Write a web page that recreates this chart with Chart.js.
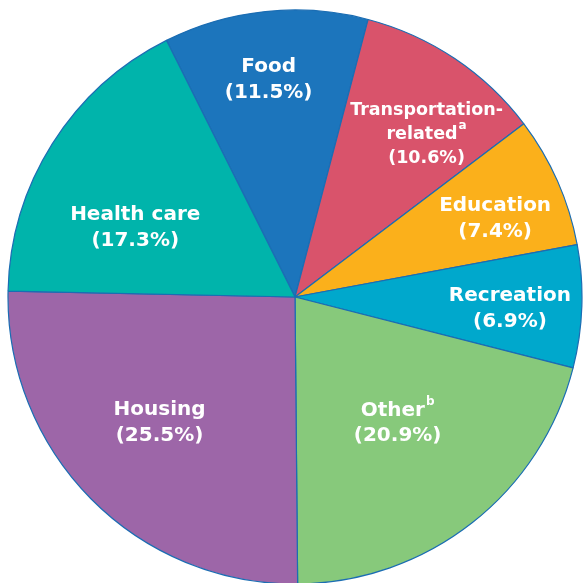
<!DOCTYPE html>
<html>
<head>
<meta charset="utf-8">
<script src="https://cdn.jsdelivr.net/npm/chart.js@4"></script>
<style>
  html, body { margin: 0; padding: 0; background: #fff; }
  #wrap { width: 583px; height: 583px; }
</style>
</head>
<body>
<div id="wrap"><canvas id="pie" width="583" height="583"></canvas></div>
<script>
// Datos
const categories = ['Food', 'Transportation-related', 'Education', 'Recreation', 'Other', 'Housing', 'Health care'];
const shares = [11.5, 10.6, 7.4, 6.9, 20.9, 25.5, 17.3];
const notes = ['', 'a', '', '', 'b', '', ''];
const sliceColors = ['#1c75bc', '#d9536b', '#fbb01b', '#00a8cc', '#87c97b', '#9d66a8', '#00b4ab'];

// where each label sits: fraction of radius and turn (deg) from slice middle
const labelPlace = [
  { dist: 0.762, turn: -1.0, size: 20, lh: 26 },
  { dist: 0.728, turn: 5.2, size: 17.5, lh: 24 },
  { dist: 0.749, turn: 2.4, size: 20, lh: 26 },
  { dist: 0.750, turn: 1.2, size: 20, lh: 26 },
  { dist: 0.567, turn: -1.0, size: 20, lh: 25 },
  { dist: 0.645, turn: 1.7, size: 20, lh: 26 },
  { dist: 0.607, turn: -8.8, size: 20, lh: 26 }
];

function nameLines(name) {
  // break after a hyphen like in the original
  const k = name.indexOf('-');
  if (k > 0) return [name.slice(0, k + 1), name.slice(k + 1)];
  return [name];
}

const sliceLabels = {
  id: 'sliceLabels',
  afterDatasetsDraw(chart) {
    const ctx = chart.ctx;
    const arcs = chart.getDatasetMeta(0).data;
    ctx.save();
    ctx.fillStyle = '#ffffff';
    ctx.textBaseline = 'middle';
    ctx.textAlign = 'left';
    arcs.forEach((arc, i) => {
      const p = labelPlace[i];
      const a = (arc.startAngle + arc.endAngle) / 2 + p.turn * Math.PI / 180;
      const r = arc.outerRadius * p.dist;
      const cx = arc.x + Math.cos(a) * r;
      const cy = arc.y + Math.sin(a) * r;
      const lines = nameLines(categories[i]).map(t => ({ text: t, sup: '' }));
      lines[lines.length - 1].sup = notes[i];
      lines.push({ text: '(' + shares[i].toFixed(1) + '%)', sup: '' });
      const mainFont = 'bold ' + p.size + 'px "DejaVu Sans", sans-serif';
      const supFont = 'bold 12px "DejaVu Sans", sans-serif';
      lines.forEach((ln, j) => {
        const y = cy + (j - (lines.length - 1) / 2) * p.lh;
        ctx.font = mainFont;
        const w1 = ctx.measureText(ln.text).width;
        ctx.font = supFont;
        const w2 = ln.sup ? ctx.measureText(ln.sup).width + 1 : 0;
        const x0 = cx - (w1 + w2) / 2;
        ctx.font = mainFont;
        ctx.fillText(ln.text, x0, y);
        if (ln.sup) {
          ctx.font = supFont;
          ctx.fillText(ln.sup, x0 + w1 + 1, y - 9);
        }
      });
    });
    ctx.restore();
  }
};

const ctx = document.getElementById('pie');
new Chart(ctx, {
  type: 'pie',
  data: {
    labels: categories,
    datasets: [{
      data: shares,
      backgroundColor: sliceColors,
      borderColor: '#1b6db3',
      borderWidth: 1.2,
      hoverOffset: 0
    }]
  },
  options: {
    responsive: false,
    animation: false,
    events: [],
    rotation: -26.6,
    radius: 287,
    layout: {
      padding: { left: 7, top: 11, right: 0, bottom: 0 }
    },
    plugins: {
      legend: { display: false },
      tooltip: { enabled: false }
    }
  },
  plugins: [sliceLabels]
});
</script>
</body>
</html>
